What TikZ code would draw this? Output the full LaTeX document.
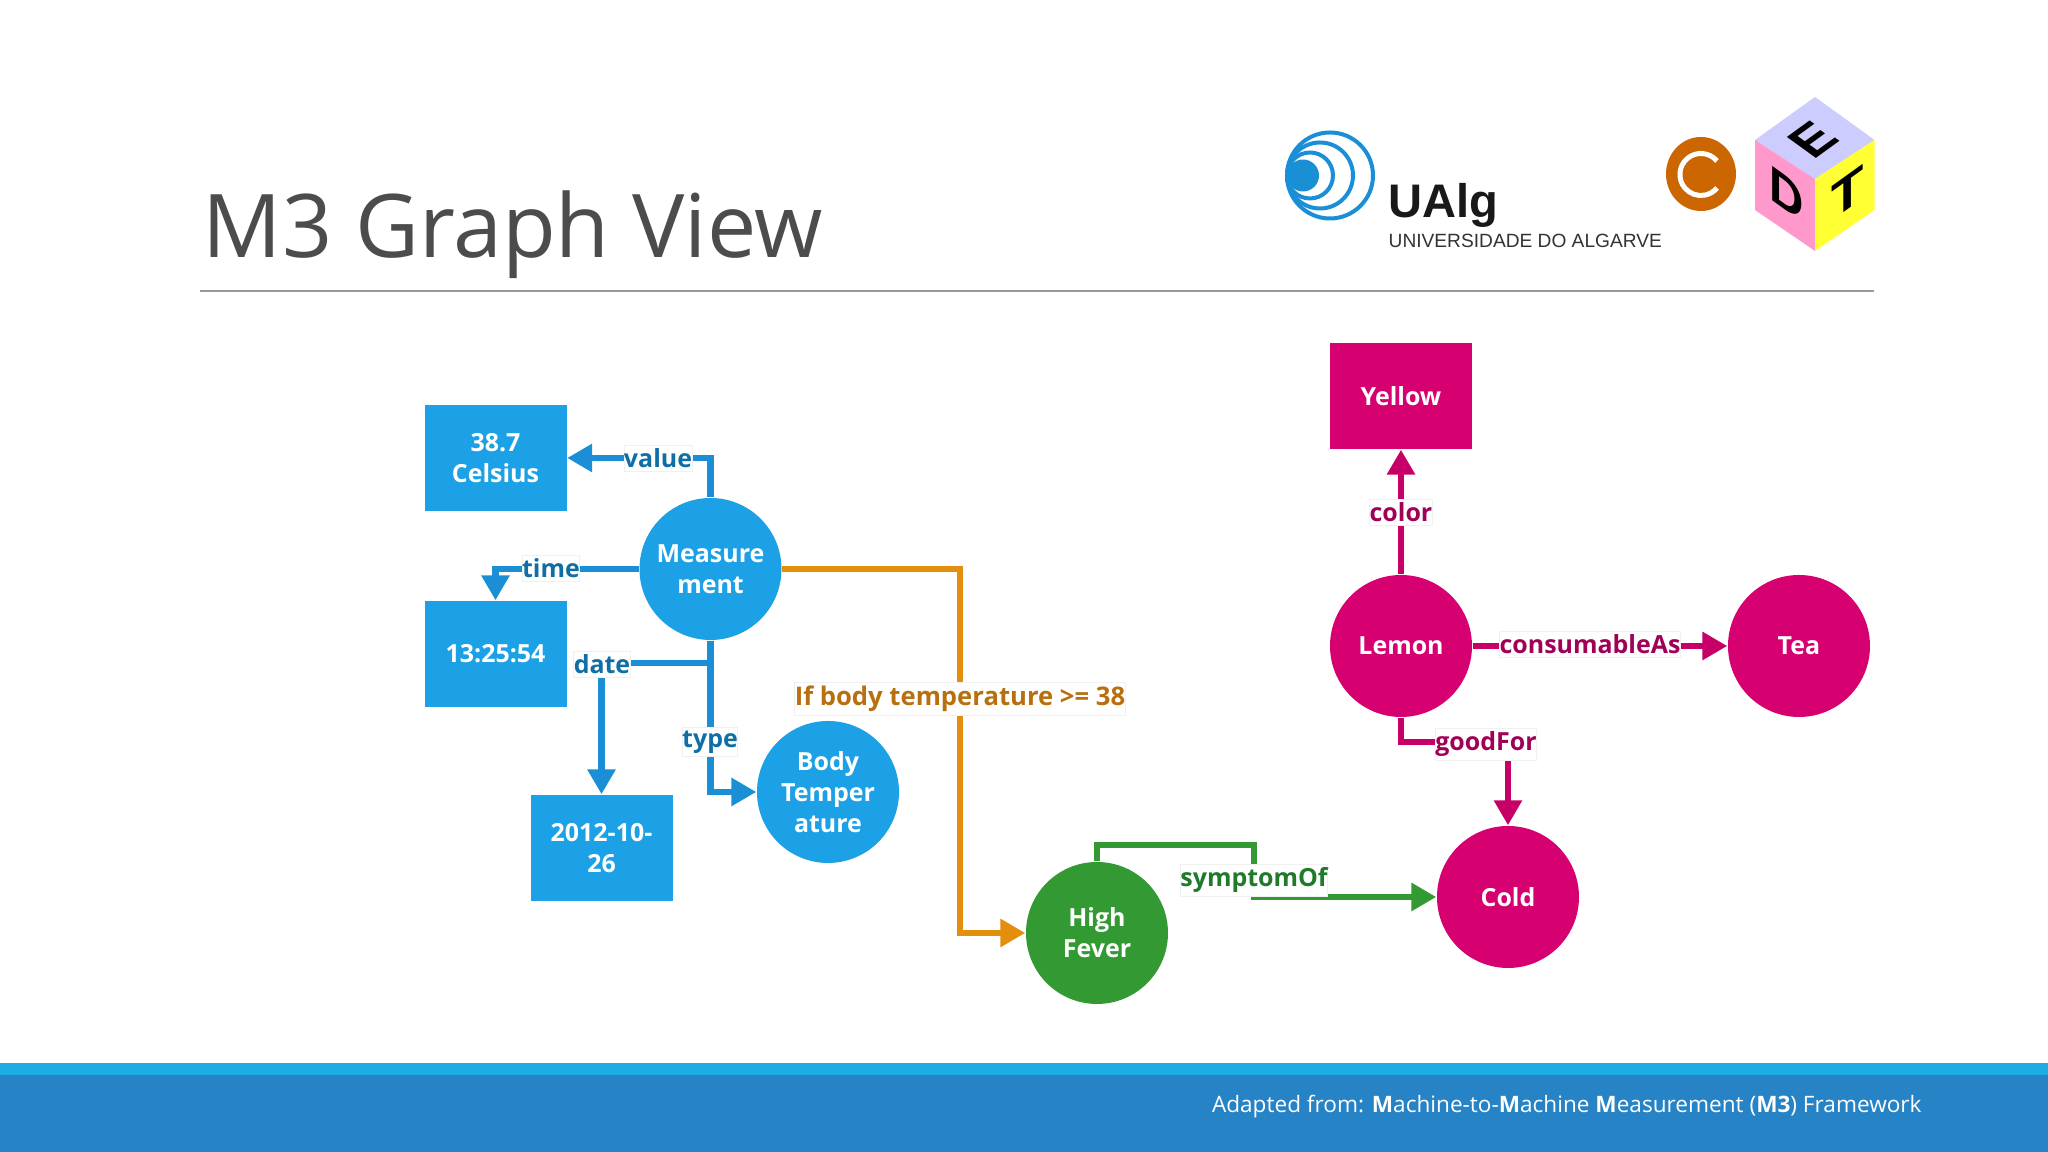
\documentclass[tikz,border=0pt]{standalone}
\usepackage{fontspec}
\setmainfont{Open Sans}
\newfontfamily\logofont{Liberation Sans}
\usetikzlibrary{arrows.meta}
\definecolor{m3blue}{HTML}{1CA1E6}
\definecolor{m3bluelink}{HTML}{1B8FD6}
\definecolor{m3bluetext}{HTML}{0F6EA6}
\definecolor{m3pink}{HTML}{D60070}
\definecolor{m3pinklink}{HTML}{C70068}
\definecolor{m3pinktext}{HTML}{A00055}
\definecolor{m3green}{HTML}{339933}
\definecolor{m3greentext}{HTML}{1F7A2A}
\definecolor{m3orange}{HTML}{E48E0E}
\definecolor{m3orangetext}{HTML}{B8700F}
\tikzset{
	nodetext/.style={text=white,font=\fontsize{7.1}{8.9}\selectfont\bfseries,align=center,inner sep=0pt},
	boxnode/.style={nodetext,rectangle,minimum width=1.42cm,minimum height=1.06cm},
	roundnode/.style={nodetext,circle,minimum size=1.42cm},
	linkline/.style={line width=0.062cm,-{Triangle[length=0.25cm,width=0.27cm]}},
	linklabel/.style={fill=white,draw=black!6,line width=0.2pt,font=\fontsize{7.1}{8.9}\selectfont\bfseries,inner xsep=0pt,inner ysep=1pt},
	cubeletter/.style={font=\logofont\bfseries\fontsize{15}{16}\selectfont,transform shape,inner sep=0pt}
}
\begin{document}
\begin{tikzpicture}
	\useasboundingbox (0,0) rectangle (20.48,11.52);
	% footer and title
	\fill[fill=white] (0,0) rectangle (20.48,11.52);
	\fill[fill={rgb,255:red,38;green,131;blue,198}] (0,0) rectangle (20.48,0.77);
	\fill[fill={rgb,255:red,28;green,173;blue,228}] (0,0.77) rectangle (20.48,0.89);
	\node[text=white,font=\fontsize{6.43}{8}\selectfont,anchor=east] (footer) at (19.34,0.45) {Adapted from: \textbf{M}achine-to-\textbf{M}achine \textbf{M}easurement (\textbf{M3}) Framework};
	\node[text=black!70,font=\fontsize{25}{28}\selectfont,anchor=west,inner sep=0pt] (title) at (2.02,9.17) {M3 Graph View};
	\draw[black!40,line width=0.02cm] (2.0,8.61) -- (18.74,8.61);

	% university logo
	\draw[m3bluelink,line width=0.04cm] (13.30,9.765) circle (0.43);
	\draw[m3bluelink,line width=0.04cm] (13.20,9.765) circle (0.33);
	\draw[m3bluelink,line width=0.04cm] (13.10,9.765) circle (0.23);
	\fill[m3bluelink] (13.03,9.765) circle (0.16);
	\node[font=\logofont\bfseries\fontsize{13.4}{15}\selectfont,text=black!90,anchor=base west,inner sep=0pt] (ualg) at (13.88,9.34) {UAlg};
	\node[font=\logofont\fontsize{5.45}{6}\selectfont,text=black!80,anchor=base west,inner sep=0pt] (ualgname) at (13.88,9.04) {UNIVERSIDADE DO ALGARVE};

	% cope logo
	\fill[fill={rgb,255:red,204;green,102;blue,0}] (17.01,9.78) ellipse (0.35 and 0.37);
	\draw[white,line width=0.05cm] (17.17,9.91) arc (40:320:0.21);
	\fill[fill={rgb,255:red,204;green,204;blue,255}] (18.15,10.55) -- (18.745,10.12) -- (18.15,9.73) -- (17.55,10.12) -- cycle;
	\fill[fill={rgb,255:red,255;green,153;blue,204}] (17.55,10.12) -- (18.15,9.73) -- (18.15,9.01) -- (17.55,9.42) -- cycle;
	\fill[fill={rgb,255:red,255;green,255;blue,51}] (18.745,10.12) -- (18.15,9.73) -- (18.15,9.01) -- (18.745,9.42) -- cycle;
	\node[cubeletter,cm={0.8,0.58,-0.8,0.58,(18.13,10.12)}] (cubee) at (0,0) {E};
	\node[cubeletter,cm={0.9,-0.65,0,0.95,(17.865,9.58)}] (cubed) at (0,0) {D};
	\node[cubeletter,cm={1,0.72,0,0.95,(18.475,9.59)}] (cubet) at (0,0) {T};

	% nodes of the graph
	\node[boxnode,fill=m3blue] (celsius) at (4.955,6.94) {38.7\\Celsius};
	\node[boxnode,fill=m3blue] (time) at (4.955,4.98) {13:25:54};
	\node[boxnode,fill=m3blue] (date) at (6.015,3.04) {2012-10-\\26};
	\node[roundnode,fill=m3blue] (measure) at (7.105,5.83) {Measure\\ment};
	\node[roundnode,fill=m3blue] (body) at (8.28,3.60) {Body\\Temper\\ature};
	\node[roundnode,fill=m3green] (fever) at (10.97,2.19) {High\\Fever};
	\node[roundnode,fill=m3pink] (cold) at (15.08,2.55) {Cold};
	\node[roundnode,fill=m3pink] (lemon) at (14.01,5.06) {Lemon};
	\node[roundnode,fill=m3pink] (tea) at (17.99,5.06) {Tea};
	\node[boxnode,fill=m3pink] (yellow) at (14.01,7.56) {Yellow};

	% bends
	\coordinate (datebend) at (7.105,4.89);
	\coordinate (orangebend) at (9.60,5.83);
	\coordinate (symptombend) at (12.54,3.07);
	\coordinate (goodbend) at (14.85,4.10);

	% links
	\draw[linkline,m3bluelink] (measure.north) |- (celsius.east);
	\draw[linkline,m3bluelink] (measure.west) -| (time.north);
	\draw[linkline,m3bluelink] (measure.south) -- (datebend) -| (date.north);
	\draw[linkline,m3bluelink] (measure.south) |- (body.west);
	\draw[linkline,m3orange] (measure.east) -- (orangebend) |- (fever.west);
	\draw[linkline,m3green] (fever.north) |- (symptombend) |- (cold.west);
	\draw[linkline,m3pinklink] (lemon.north) -- (yellow.south);
	\draw[linkline,m3pinklink] (lemon.east) -- (tea.west);
	\draw[linkline,m3pinklink] (lemon.south) |- (goodbend) -| (cold.north);

	% labels on the links
	\node[linklabel,text=m3bluetext] (value) at (6.58,6.94) {value};
	\node[linklabel,text=m3bluetext] (timelabel) at (5.51,5.84) {time};
	\node[linklabel,text=m3bluetext] (datelabel) at (6.02,4.88) {date};
	\node[linklabel,text=m3bluetext] (type) at (7.10,4.10) {type};
	\node[linklabel,text=m3orangetext,font=\fontsize{7.3}{8.9}\selectfont\bfseries] (ifbody) at (9.60,4.53) {If body temperature >= 38};
	\node[linklabel,text=m3greentext] (symptom) at (12.54,2.72) {symptomOf};
	\node[linklabel,text=m3pinktext] (color) at (14.01,6.40) {color};
	\node[linklabel,text=m3pinktext] (consumable) at (15.90,5.08) {consumableAs};
	\node[linklabel,text=m3pinktext] (goodfor) at (14.86,4.08) {goodFor};
\end{tikzpicture}
\end{document}
